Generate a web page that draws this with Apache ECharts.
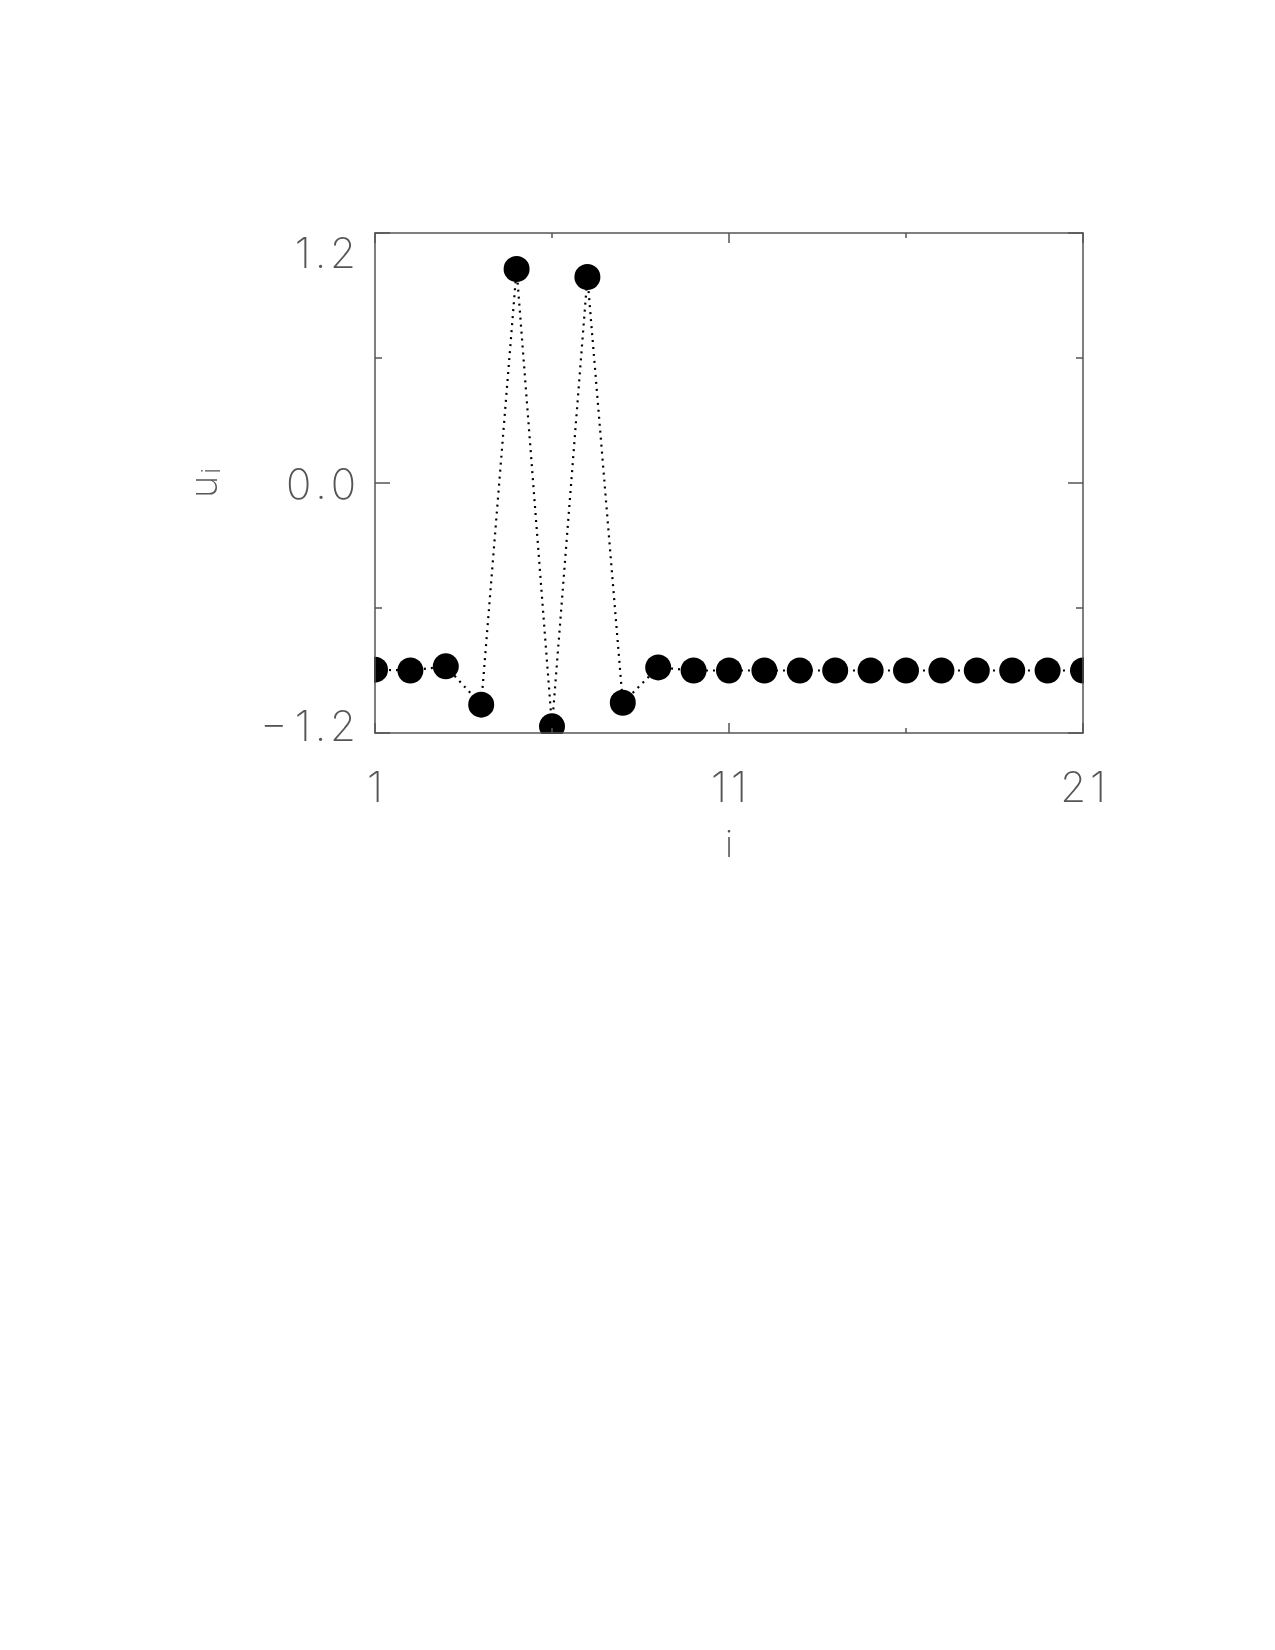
<!DOCTYPE html>
<html>
<head>
<meta charset="utf-8">
<script src="https://cdn.jsdelivr.net/npm/echarts@6/dist/echarts.min.js"></script>
<style>
html,body{margin:0;padding:0;background:#fff;}
#c{width:1275px;height:1650px;}
</style>
</head>
<body>
<div id="c"></div>
<script>
// Data
const indices = ['1','2','3','4','5','6','7','8','9','10','11','12','13','14','15','16','17','18','19','20','21'];
const uValues = [-0.896, -0.900, -0.880, -1.064, 1.027, -1.168, 0.989, -1.055, -0.885,
                 -0.900, -0.900, -0.900, -0.900, -0.900, -0.900, -0.900, -0.900, -0.900, -0.900, -0.900, -0.900];
const yTicks = [-1.2, 0.0, 1.2];

const FONT = "Inter, 'DejaVu Sans'";
const FW = 200;
const AX = '#555';
const TXT = '#555';

// wide letter spacing like the original stroke font
const spaced = s => s.split('').join('\u200A');

const chart = echarts.init(document.getElementById('c'), null, {renderer: 'canvas'});

function xAx(pos, tickInterval, tickLen, showLabel, extra) {
  return Object.assign({
    type: 'category',
    data: indices,
    boundaryGap: false,
    position: pos,
    z: 10,
    axisLine: {show: true, onZero: false, lineStyle: {color: AX, width: 1.5}},
    axisTick: {show: true, inside: true, interval: tickInterval, length: tickLen, lineStyle: {color: AX, width: 1.5}},
    axisLabel: {show: showLabel, interval: 9, fontFamily: FONT, fontWeight: FW, fontSize: 42, color: TXT, margin: 35,
      formatter: v => spaced(v)},
    splitLine: {show: false}
  }, extra || {});
}
function yLabel(v) {
  const s = (v < 0 ? '\u2212\u2009' : '') + spaced(Math.abs(v).toFixed(1));
  if (v >= yTicks[yTicks.length - 1]) return '{dn|' + s + '}';
  if (v <= yTicks[0]) return '{up|' + s + '}';
  return '{mid|' + s + '}';
}
const base = {fontFamily: FONT, fontWeight: FW, fontSize: 42, color: TXT};
const labRich = {
  dn: Object.assign({}, base, {padding: [44, 0, 0, 0]}),
  up: Object.assign({}, base, {padding: [0, 0, 10, 0]}),
  mid: Object.assign({}, base, {padding: [6, 0, 0, 0]})
};
function yAx(pos, showLabel, extra) {
  return Object.assign({
    type: 'value',
    min: yTicks[0],
    max: yTicks[yTicks.length - 1],
    interval: 1.2,
    position: pos,
    z: 10,
    axisLine: {show: true, onZero: false, lineStyle: {color: AX, width: 1.5}},
    axisTick: {show: true, inside: true, length: 15, lineStyle: {color: AX, width: 1.5}},
    minorTick: {show: true, splitNumber: 2, length: 7, lineStyle: {color: AX, width: 1.5}},
    axisLabel: {show: showLabel, margin: 19, formatter: yLabel, rich: labRich},
    splitLine: {show: false}
  }, extra || {});
}

const option = {
  backgroundColor: '#fff',
  animation: false,
  grid: {left: 375, right: 192, top: 233, height: 500, containLabel: false},
  xAxis: [
    xAx('bottom', 9, 10, true, {
      name: 'i', nameLocation: 'middle', nameGap: 95,
      nameTextStyle: {fontFamily: FONT, fontWeight: FW, fontSize: 36, color: TXT}
    }),
    xAx('bottom', 4, 5, false, {axisLine: {show: false, onZero: false}}),
    xAx('top', 9, 10, false),
    xAx('top', 4, 5, false, {axisLine: {show: false, onZero: false}})
  ],
  yAxis: [
    yAx('left', true, {
      name: '{u|u}{s|i}', nameLocation: 'middle', nameGap: 150, nameRotate: 90,
      nameTextStyle: {
        rich: {
          u: {fontFamily: FONT, fontWeight: FW, fontSize: 38, color: TXT, lineHeight: 40, verticalAlign: 'bottom'},
          s: {fontFamily: FONT, fontWeight: FW, fontSize: 26, color: TXT, lineHeight: 40, verticalAlign: 'bottom', padding: [18, 0, 0, 2]}
        }
      }
    }),
    yAx('right', false)
  ],
  graphic: [
    {type: 'rect', z: 5, shape: {x: 345, y: 560, width: 29, height: 140}, style: {fill: '#fff'}},
    {type: 'rect', z: 5, shape: {x: 1084, y: 560, width: 30, height: 172}, style: {fill: '#fff'}},
    {type: 'rect', z: 5, shape: {x: 376, y: 734, width: 740, height: 20}, style: {fill: '#fff'}}
  ],
  series: [{
    type: 'line',
    xAxisIndex: 0,
    yAxisIndex: 0,
    data: uValues,
    clip: false,
    z: 2,
    symbol: 'circle',
    symbolSize: 26,
    showAllSymbol: true,
    itemStyle: {color: '#000'},
    lineStyle: {color: '#000', width: 2.2, type: [2, 5]}
  }]
};
chart.setOption(option);
</script>
</body>
</html>
